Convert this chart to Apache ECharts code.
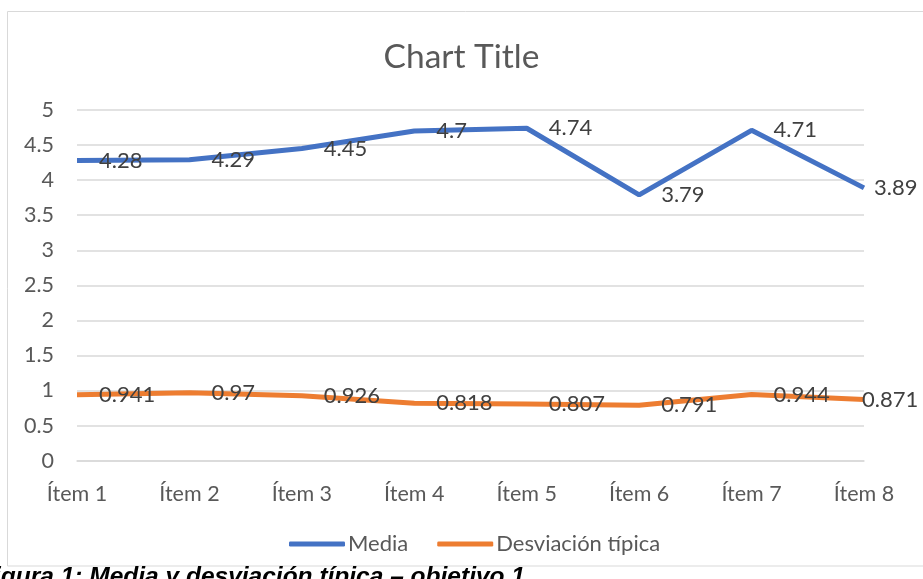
<!DOCTYPE html>
<html><head><meta charset="utf-8">
<script src="https://cdn.jsdelivr.net/npm/echarts@6/dist/echarts.min.js"></script>
<style>html,body{margin:0;padding:0;background:#fff}#c{width:923px;height:579px}</style>
</head><body><div id="c"></div>
<script>
const categories = ['Ítem 1','Ítem 2','Ítem 3','Ítem 4','Ítem 5','Ítem 6','Ítem 7','Ítem 8'];
const media = [4.28, 4.29, 4.45, 4.7, 4.74, 3.79, 4.71, 3.89];
const desviacion = [0.941, 0.97, 0.926, 0.818, 0.807, 0.791, 0.944, 0.871];
const seriesNames = ['Media', 'Desviación típica'];
const titleText = 'Chart Title';
const captionText = 'Figura 1: Media y desviación típica – objetivo 1';

const FONT = 'Lato';
function withLast(arr, dist) {
  return arr.map((v, i) => i === arr.length - 1 ? {value: v, label: {distance: dist}} : v);
}
const chart = echarts.init(document.getElementById('c'), null, {renderer: 'canvas'});
chart.setOption({
  animation: false,
  title: {text: titleText, left: 'center', top: 35,
    textStyle: {fontFamily: FONT, fontSize: 33.5, fontWeight: 'normal', color: '#595959'}},
  grid: {left: 77, right: 59, top: 110, bottom: 118.3, containLabel: false},
  legend: {bottom: 19, left: 284, itemWidth: 56, itemHeight: 5, itemGap: 29,
    icon: 'roundRect',
    textStyle: {fontFamily: FONT, fontSize: 22, color: '#595959', padding: [0, 0, 0, -2]},
    data: seriesNames},
  xAxis: {type: 'category', data: categories, boundaryGap: false,
    axisLine: {lineStyle: {color: '#d9d9d9', width: 1.5}}, axisTick: {show: false},
    axisLabel: {fontFamily: FONT, fontSize: 21.5, color: '#595959', margin: 22}},
  yAxis: {type: 'value', min: 0, max: 5, interval: 0.5,
    axisLine: {show: false}, axisTick: {show: false},
    splitLine: {lineStyle: {color: '#d9d9d9', width: 1.5}},
    axisLabel: {fontFamily: FONT, fontSize: 21.5, color: '#595959', margin: 23}},
  graphic: [
    {type: 'rect', shape: {x: 7.5, y: 11.5, width: 940, height: 554.5},
     style: {fill: 'none', stroke: '#d9d9d9', lineWidth: 1}, silent: true},
    {type: 'text', left: -21, top: 565,
     style: {text: captionText, font: 'italic bold 24.5px "Liberation Sans"', fill: '#000'}}
  ],
  series: [
    {name: seriesNames[0], type: 'line', data: withLast(media, 10),
     symbol: 'circle', symbolSize: 0, showSymbol: true,
     lineStyle: {color: '#4472C4', width: 5}, itemStyle: {color: '#4472C4'},
     label: {show: true, position: 'right', distance: 22,
       fontFamily: FONT, fontSize: 22, color: '#404040'}},
    {name: seriesNames[1], type: 'line', data: withLast(desviacion, -2),
     symbol: 'circle', symbolSize: 0, showSymbol: true,
     lineStyle: {color: '#ED7D31', width: 5}, itemStyle: {color: '#ED7D31'},
     label: {show: true, position: 'right', distance: 22,
       fontFamily: FONT, fontSize: 22, color: '#404040'}}
  ]
});
</script></body></html>
